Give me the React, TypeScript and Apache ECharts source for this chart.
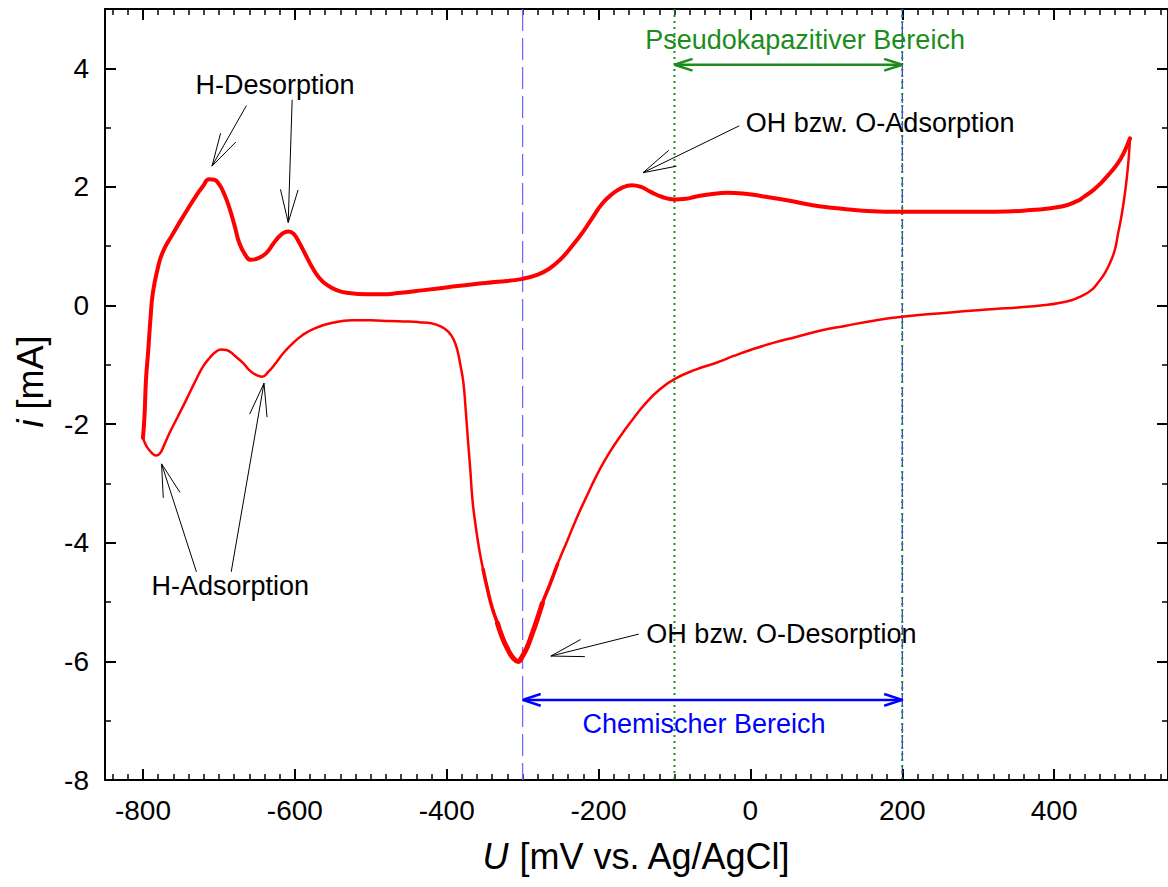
import React, { useEffect, useRef } from 'react';
import * as echarts from 'echarts';

// ---------- data (U in mV vs Ag/AgCl, i in mA) ----------
// anodic (upper) branch, -800 -> 500 mV
const upperU = [
  -800, -798, -796, -793, -790, -787, -781, -774, -761, -750, -739, -730, -721, -713, -706, -700,
  -693, -686, -679, -673, -665, -658, -650, -638, -628, -621, -614, -608, -601, -595, -586, -577,
  -568, -560, -545, -529, -505, -485, -464, -430, -398, -365, -333, -300, -280, -265, -250, -235,
  -220, -207, -195, -182, -170, -156, -144, -132, -116, -100, -85, -71, -50, -31, -10, 17, 50, 82, 115,
  148, 200, 257, 322, 370, 410, 430, 440, 452, 462, 474, 484, 492, 500,
];
const upperI = [
  -2.23, -1.87, -1.25, -0.75, -0.2, 0.21, 0.6, 0.9, 1.2, 1.44, 1.67, 1.85, 2.01, 2.13, 2.12, 2.05,
  1.88, 1.64, 1.33, 1.05, 0.85, 0.77, 0.79, 0.88, 1.05, 1.16, 1.23, 1.25, 1.2, 1.08, 0.86, 0.64,
  0.47, 0.37, 0.26, 0.21, 0.19, 0.19, 0.21, 0.26, 0.31, 0.36, 0.4, 0.45, 0.52, 0.62, 0.78, 1.0,
  1.25, 1.5, 1.72, 1.88, 1.98, 2.03, 2.0, 1.92, 1.83, 1.79, 1.8, 1.84, 1.88, 1.9, 1.89, 1.84, 1.77, 1.69, 1.64,
  1.6, 1.58, 1.58, 1.58, 1.61, 1.67, 1.76, 1.84, 1.95, 2.07, 2.24, 2.4, 2.58, 2.82,
];
// cathodic (lower) branch, 500 -> -800 mV
const lowerU = [
  500, 498, 495, 492, 488.6, 484, 480, 474, 467, 458, 449, 436, 423, 405, 388, 355, 322, 260, 200,
  160, 126, 90, 60, 30, 0, -22, -44, -72, -100, -118, -136, -155, -175, -189, -202, -215,
  -228, -241, -254, -264, -274, -281, -287, -294, -301, -306, -312, -319, -326, -333, -340, -346, -352,
  -357, -362, -366, -369, -372, -375, -378, -382, -386, -391, -398, -408, -420, -437, -450, -475, -500, -525,
  -550, -573, -590, -603, -615, -625, -635, -643, -651, -660, -668, -678, -690, -697, -704, -712,
  -721, -732, -743, -754, -765, -772, -778, -783, -788, -794, -798, -800,
];
const lowerI = [
  2.82, 2.45, 2.07, 1.78, 1.5, 1.2, 0.94, 0.73, 0.55, 0.39, 0.26, 0.16, 0.09, 0.04, 0.01, -0.03, -0.06, -0.12, -0.19,
  -0.26, -0.34, -0.43, -0.53, -0.63, -0.75, -0.85, -0.96, -1.08, -1.24, -1.4, -1.62, -1.92, -2.27, -2.55, -2.85, -3.2,
  -3.56, -3.96, -4.36, -4.7, -5.02, -5.3, -5.52, -5.76, -5.93, -6.0, -5.95, -5.81, -5.62, -5.36, -5.1, -4.8, -4.45,
  -4.12, -3.7, -3.28, -2.75, -2.27, -1.75, -1.3, -1.0, -0.75, -0.57, -0.44, -0.35, -0.3, -0.28, -0.27, -0.26, -0.25, -0.25,
  -0.29, -0.38, -0.5, -0.64, -0.8, -0.97, -1.12, -1.2, -1.17, -1.09, -0.97, -0.86, -0.75, -0.74, -0.78, -0.88,
  -1.03, -1.3, -1.59, -1.87, -2.15, -2.35, -2.5, -2.53, -2.49, -2.4, -2.3, -2.23,
];
// parts of the cathodic branch drawn thicker (overlapping cycles)
const valleyOuter = [-248, -352];
const valleyInner = [-272, -336];

const xMajorTicks = [-800, -600, -400, -200, 0, 200, 400];
const yMajorTicks = [-8, -6, -4, -2, 0, 2, 4];
const yMinorTicks = [-7, -5, -3, -1, 1, 3];
const xMinorTicks: number[] = [];
for (let v = -840; v <= 540; v += 20) xMinorTicks.push(v);

const xMin = -850;
const xMax = 550;
const yMin = -8;
const yMax = 5;

const GREEN = '#1c8c1c';
const BLUE = '#0000ff';
const FONT = 'Arial, "Liberation Sans", sans-serif';

type Ann =
  | { kind: 'vline'; x: number; stroke: string; width: number; dash: number[] }
  | { kind: 'span'; x1: number; x2: number; y: number; stroke: string }
  | { kind: 'text'; x: number; y: number; text: string; fill: string; align: string }
  | { kind: 'arrow'; tail: number[]; tip: number[] };

const annotations: Ann[] = [
  { kind: 'vline', x: -300, stroke: '#6b6bff', width: 1.3, dash: [22, 7] },
  { kind: 'vline', x: 200, stroke: BLUE, width: 1, dash: [10, 4] },
  { kind: 'vline', x: -100, stroke: GREEN, width: 2, dash: [2, 4] },
  { kind: 'vline', x: 200, stroke: GREEN, width: 2, dash: [2, 4] },
  { kind: 'span', x1: -100, x2: 200, y: 4.06, stroke: GREEN },
  { kind: 'span', x1: -300, x2: 200, y: -6.65, stroke: BLUE },
  { kind: 'text', x: 72, y: 4.48, text: 'Pseudokapazitiver Bereich', fill: GREEN, align: 'center' },
  { kind: 'text', x: -61, y: -7.06, text: 'Chemischer Bereich', fill: BLUE, align: 'center' },
  { kind: 'text', x: -626, y: 3.72, text: 'H-Desorption', fill: '#000', align: 'center' },
  { kind: 'text', x: -685, y: -4.73, text: 'H-Adsorption', fill: '#000', align: 'center' },
  { kind: 'text', x: -6, y: 3.08, text: 'OH bzw. O-Adsorption', fill: '#000', align: 'left' },
  { kind: 'text', x: -137, y: -5.54, text: 'OH bzw. O-Desorption', fill: '#000', align: 'left' },
  { kind: 'arrow', tail: [-663.8, 3.37], tip: [-709.1, 2.35] },
  { kind: 'arrow', tail: [-603.5, 3.47], tip: [-608.7, 1.4] },
  { kind: 'arrow', tail: [-729.6, -4.49], tip: [-775.5, -2.67] },
  { kind: 'arrow', tail: [-683.8, -4.49], tip: [-640.6, -1.31] },
  { kind: 'arrow', tail: [-14.7, 3.03], tip: [-141.4, 2.24] },
  { kind: 'arrow', tail: [-147, -5.54], tip: [-262.8, -5.91] },
];

function zip(u: number[], i: number[]) {
  return u.map((v, k) => [v, i[k]]);
}

function wing(tip: number[], from: number[], len: number, angDeg: number) {
  const dx = from[0] - tip[0];
  const dy = from[1] - tip[1];
  const d = Math.sqrt(dx * dx + dy * dy) || 1;
  const ux = dx / d;
  const uy = dy / d;
  const a = (angDeg * Math.PI) / 180;
  const res: number[][] = [];
  for (const s of [1, -1]) {
    const c = Math.cos(s * a);
    const sn = Math.sin(s * a);
    res.push([tip[0] + (ux * c - uy * sn) * len, tip[1] + (ux * sn + uy * c) * len]);
  }
  return res;
}

function lineEl(p: number[], q: number[], stroke: string, lineWidth: number, dash?: number[]) {
  return {
    type: 'line',
    shape: { x1: p[0], y1: p[1], x2: q[0], y2: q[1] },
    style: { stroke, lineWidth, lineDash: dash || null, fill: null },
  };
}

function renderItem(params: any, api: any) {
  const a = annotations[params.dataIndex];
  if (a.kind === 'vline') {
    const p = api.coord([a.x, yMax]);
    const q = api.coord([a.x, yMin]);
    return lineEl(p, q, a.stroke, a.width, a.dash);
  }
  if (a.kind === 'span') {
    const p = api.coord([a.x1, a.y]);
    const q = api.coord([a.x2, a.y]);
    const children: any[] = [lineEl(p, q, a.stroke, 2.5)];
    for (const [t, f] of [[p, q], [q, p]]) {
      for (const w of wing(t, f, 19, 18)) children.push(lineEl(t, w, a.stroke, 2.5));
    }
    return { type: 'group', children };
  }
  if (a.kind === 'text') {
    const p = api.coord([a.x, a.y]);
    return {
      type: 'text',
      x: p[0],
      y: p[1],
      style: {
        text: a.text,
        fill: a.fill,
        fontSize: 27,
        fontFamily: FONT,
        align: a.align,
        verticalAlign: 'middle',
      },
    };
  }
  const tip = api.coord(a.tip);
  const tail = api.coord(a.tail);
  const children: any[] = [lineEl(tip, tail, '#000', 1)];
  for (const w of wing(tip, tail, 34, 15)) children.push(lineEl(tip, w, '#000', 1));
  return { type: 'group', children };
}

const nameStyle = {
  fontSize: 36,
  color: '#000',
  fontFamily: FONT,
  rich: { it: { fontStyle: 'italic', fontSize: 36, fontFamily: FONT, color: '#000' } },
};

function xAxisDef(position: string, major: boolean, withLabels: boolean) {
  return {
    type: 'value',
    position,
    min: xMin,
    max: xMax,
    axisLine: { show: major, onZero: false, lineStyle: { color: '#000', width: 2 } },
    axisTick: {
      show: true,
      inside: true,
      length: major ? 11 : 6,
      customValues: major ? xMajorTicks : xMinorTicks,
      lineStyle: { color: '#000', width: major ? 2 : 1.5 },
    },
    axisLabel: withLabels
      ? { show: true, customValues: xMajorTicks, fontSize: 28, color: '#000', margin: 16, fontFamily: FONT }
      : { show: false },
    splitLine: { show: false },
    ...(withLabels
      ? {
          name: '{it|U} [mV vs. Ag/AgCl]',
          nameLocation: 'middle',
          nameGap: 58,
          nameTextStyle: nameStyle,
        }
      : {}),
  };
}

function yAxisDef(position: string, major: boolean, withLabels: boolean) {
  return {
    type: 'value',
    position,
    min: yMin,
    max: yMax,
    axisLine: { show: major, onZero: false, lineStyle: { color: '#000', width: 2 } },
    axisTick: {
      show: true,
      inside: true,
      length: major ? 11 : 6,
      customValues: major ? yMajorTicks : yMinorTicks,
      lineStyle: { color: '#000', width: major ? 2 : 1.5 },
    },
    axisLabel: withLabels
      ? { show: true, customValues: yMajorTicks, fontSize: 28, color: '#000', margin: 16, fontFamily: FONT }
      : { show: false },
    splitLine: { show: false },
    ...(withLabels
      ? {
          name: '{it|i} [mA]',
          nameLocation: 'middle',
          nameGap: 57,
          nameTextStyle: { ...nameStyle, padding: [0, 0, 0, 26] },
        }
      : {}),
  };
}

function redLine(data: number[][], width: number) {
  return {
    type: 'line',
    xAxisIndex: 0,
    yAxisIndex: 0,
    z: 3,
    data,
    symbol: 'none',
    smooth: 0.5,
    silent: true,
    lineStyle: { color: '#ff0000', width, cap: 'round', join: 'round' },
  };
}

export default function App() {
  const ref = useRef<HTMLDivElement>(null);
  useEffect(() => {
    if (!ref.current) return;
    const chart = echarts.init(ref.current, undefined, { renderer: 'svg' });
    const upper = zip(upperU, upperI);
    const lower = zip(lowerU, lowerI);
    const outer = lower.filter((p) => p[0] <= valleyOuter[0] && p[0] >= valleyOuter[1]);
    const inner = lower.filter((p) => p[0] <= valleyInner[0] && p[0] >= valleyInner[1]);
    chart.setOption({
      animation: false,
      backgroundColor: '#fff',
      grid: { left: 105, top: 9, right: -6, bottom: 107, containLabel: false },
      xAxis: [
        xAxisDef('bottom', true, true),
        xAxisDef('bottom', false, false),
        xAxisDef('top', true, false),
        xAxisDef('top', false, false),
      ],
      yAxis: [
        yAxisDef('left', true, true),
        yAxisDef('left', false, false),
        yAxisDef('right', true, false),
        yAxisDef('right', false, false),
      ],
      series: [
        {
          type: 'custom',
          xAxisIndex: 0,
          yAxisIndex: 0,
          z: 1,
          silent: true,
          renderItem,
          data: annotations.map((_, k) => [k, 0]),
        },
        redLine(upper, 4),
        redLine(lower, 2.5),
        redLine(outer, 3.5),
        redLine(inner, 5),
      ],
    });
    return () => chart.dispose();
  }, []);
  return (
    <div
      ref={ref}
      style={{ position: 'absolute', left: 0, top: 0, width: 1168, height: 887, background: '#fff' }}
    />
  );
}
